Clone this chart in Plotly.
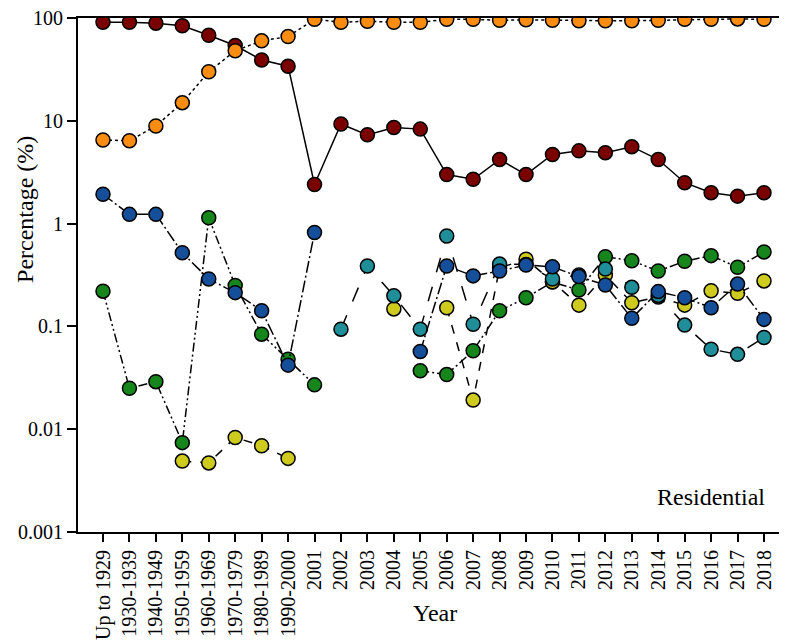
import plotly.graph_objects as go

years = ['Up to 1929', '1930-1939', '1940-1949', '1950-1959', '1960-1969', '1970-1979',
         '1980-1989', '1990-2000', '2001', '2002', '2003', '2004', '2005', '2006', '2007',
         '2008', '2009', '2010', '2011', '2012', '2013', '2014', '2015', '2016', '2017', '2018']

dark_red = [91, 91, 89, 84, 68, 54, 39, 34, 2.4, 9.3, 7.3, 8.6, 8.3, 3.0, 2.7,
            4.2, 3.0, 4.7, 5.1, 4.9, 5.6, 4.2, 2.5, 2.0, 1.85, 2.0]
orange = [6.5, 6.4, 8.9, 15, 30, 48, 60, 66, 97, 91, 93, 91, 91, 97, 97,
          95, 96, 95, 94, 94, 94, 95, 97, 97, 98, 97]
green = [0.22, 0.025, 0.029, 0.0074, 1.14, 0.25, 0.084, 0.048, 0.027, None, None, None, 0.037, 0.034, 0.058,
         0.142, 0.19, 0.27, 0.226, 0.476, 0.435, 0.346, 0.43, 0.488, 0.376, 0.53]
yellow = [None, None, None, 0.0049, 0.0047, 0.0083, 0.0069, 0.0052, None, None, None, 0.148, None, 0.152, 0.0192,
          0.37, 0.45, 0.272, 0.161, 0.316, 0.17, 0.193, 0.161, 0.222, 0.21, 0.277]
teal = [None, None, None, None, None, None, None, None, None, 0.094, 0.387, 0.199, 0.094, 0.757, 0.105,
        0.404, 0.4, 0.289, 0.316, 0.361, 0.24, 0.2, 0.103, 0.06, 0.0535, 0.078]
blue = [1.93, 1.23, 1.23, 0.52, 0.289, 0.213, 0.142, 0.042, 0.82, None, None, None, 0.057, 0.387, 0.31,
        0.346, 0.395, 0.38, 0.305, 0.253, 0.12, 0.218, 0.19, 0.152, 0.258, 0.117]

y_ticks = [0.001, 0.01, 0.1, 1, 10, 100]
y_labels = ['0.001', '0.01', '0.1', '1', '10', '100']

series = [
    (dark_red, '#7a0000', 'solid'),
    (orange, '#fb8c12', 'dot'),
    (green, '#16861c', '9px,3px,2px,3px,2px,3px'),
    (yellow, '#cfcb1e', 'dash'),
    (teal, '#1f8e98', 'longdash'),
    (blue, '#164f99', '12px,3px,2px,3px'),
]

# the page body keeps its 8px margin, so the figure is sized to end at the window edge
font_family = '"Times New Roman", "Liberation Serif", Tinos, serif'

traces = []
for values, color, dash in series:
    trace = go.Scatter(
        x=years,
        y=values,
        mode='lines+markers',
        line=dict(color='black', width=1.5, dash=dash),
        marker=dict(size=14, color=color, line=dict(color='black', width=1.5)),
        connectgaps=False
    )
    traces.append(trace)

layout = go.Layout(
    width=779,
    height=636,
    showlegend=False,
    plot_bgcolor='white',
    paper_bgcolor='white',
    margin=dict(l=70, r=0, t=10, b=112),
    font=dict(family=font_family, color='black'),
    xaxis=dict(
        type='category',
        range=[-0.9455, 25.87],
        showline=True,
        linecolor='black',
        linewidth=2,
        mirror=True,
        ticks='outside',
        ticklen=8,
        tickwidth=2,
        tickcolor='black',
        tickangle=-90,
        tickfont=dict(size=20, family=font_family),
        showgrid=False,
        zeroline=False
    ),
    yaxis=dict(
        type='log',
        range=[-3, 2],
        tickvals=y_ticks,
        ticktext=y_labels,
        ticklabeloverflow='allow',
        showline=True,
        linecolor='black',
        linewidth=2,
        ticks='outside',
        ticklen=9,
        tickwidth=2,
        tickcolor='black',
        tickfont=dict(size=20, family=font_family),
        showgrid=False,
        zeroline=False
    ),
    annotations=[
        dict(text='Year', x=0.5035, y=-0.1576, xref='paper', yref='paper',
             xanchor='center', yanchor='middle',
             showarrow=False, font=dict(size=24, family=font_family)),
        dict(text='Percentage (%)', x=-0.0748, y=0.6284, xref='paper', yref='paper',
             xanchor='center', yanchor='middle',
             textangle=-90, showarrow=False, font=dict(size=24, family=font_family)),
        dict(text='Residential', x=0.893, y=0.068, xref='paper', yref='paper',
             xanchor='center', yanchor='middle',
             showarrow=False, font=dict(size=24, family=font_family)),
    ]
)

fig = go.Figure(data=traces, layout=layout)
fig.write_html('out.html')
